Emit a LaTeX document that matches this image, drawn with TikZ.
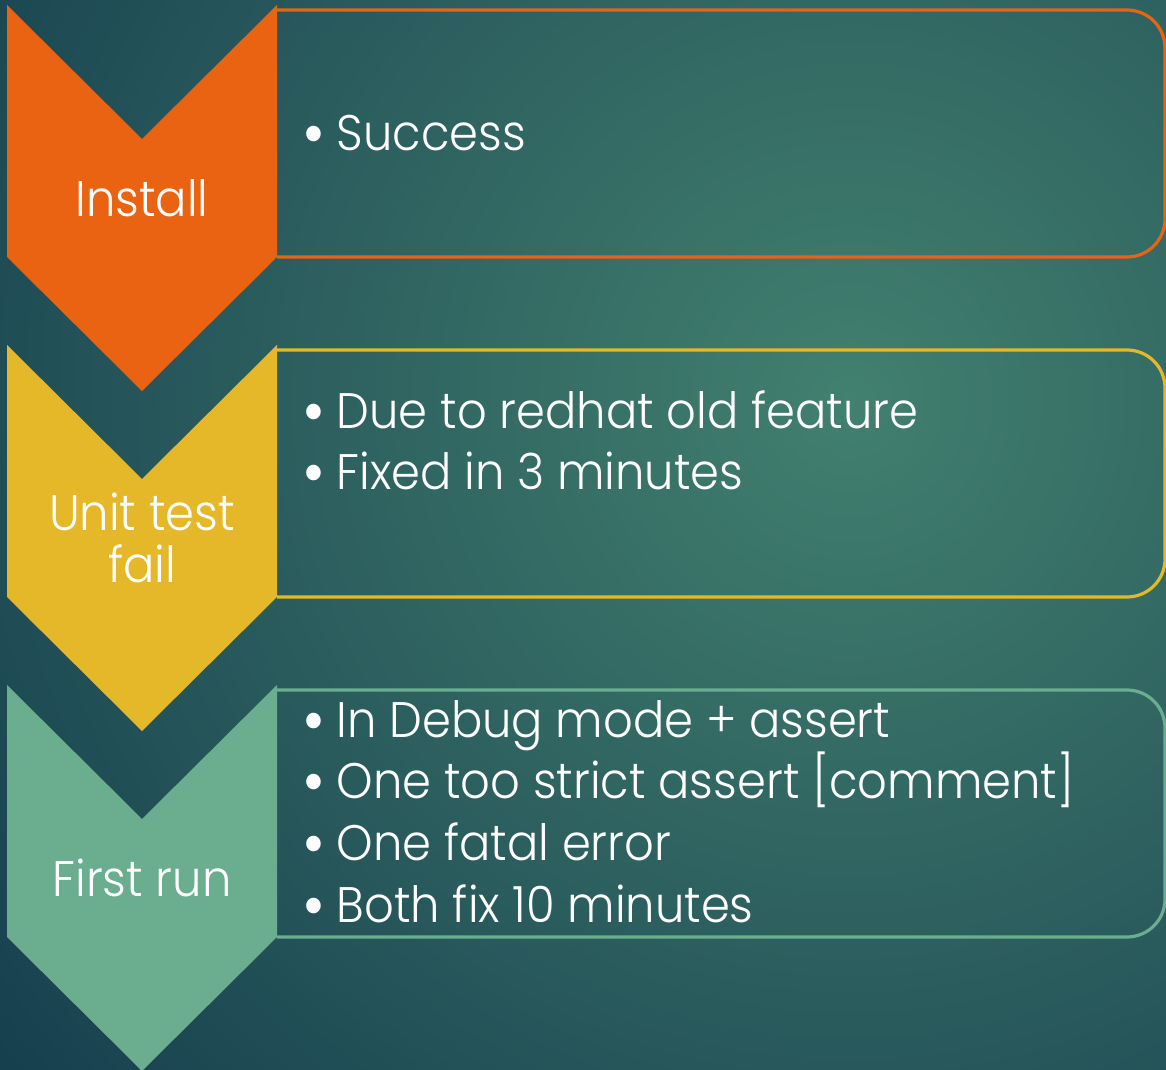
\documentclass[tikz,border=0pt]{standalone}
\usepackage{fontspec}
\setmainfont{Poppins}[UprightFont=* Light, FakeStretch=0.93]
\usepackage{xcolor}
\usepackage{graphicx}
\usepackage{tikz}
\usetikzlibrary{positioning}

\definecolor{instorange}{HTML}{EA6312}
\definecolor{testyellow}{HTML}{E5B82A}
\definecolor{rungreen}{HTML}{6AAD8F}
\definecolor{bgdark}{HTML}{163E4E}
\definecolor{bglight}{HTML}{42806F}

\newcommand{\bul}{\strut\makebox[0.34cm][l]{\raisebox{-0.12em}{\scalebox{1.35}{\textbullet}}}}

\begin{document}
\setlength{\lineskiplimit}{-20pt}
\begin{tikzpicture}[x=0.01cm, y=-0.01cm,
  frame/.style={draw=#1, line width=0.032cm, rounded corners=0.38cm},
  stage/.style={font=\fontsize{14.2}{15}\selectfont, text=white, align=center, inner sep=0pt},
  items/.style={font=\fontsize{14.2}{17.6}\selectfont, text=white,
    align=left, inner sep=0pt, anchor=north west}
]
  \useasboundingbox (0,0) rectangle (1166,1070);
  % background
  \begin{scope}
    \clip (0,0) rectangle (1166,1070);
    \shade[inner color=bglight, outer color=bgdark] (850,400) circle[radius=11cm];
  \end{scope}

  \foreach \k/\col/\name/\ty in {0/instorange/Install/198,
    1/testyellow/{Unit test\\fail}/538, 2/rungreen/First run/878} {
    \pgfmathsetmacro{\dy}{340*\k}
    \draw[frame=\col] (277,10+\dy) -- (1165,10+\dy) -- (1165,257+\dy) -- (277,257+\dy);
    \fill[\col] (7,5+\dy) -- (142,139+\dy) -- (277,5+\dy) -- (277,257+\dy)
      -- (142,391+\dy) -- (7,257+\dy) -- cycle;
    \node[stage] (stage\k) at (142,\ty) {\name};
  }

  \node[items] (list0) at (302,106) {\bul Success};
  \node[items] (list1) at (302,384) {\bul Due to redhat old feature\\
    \bul Fixed in 3 minutes};
  \node[items] (list2) at (302,693) {\bul In Debug mode + assert\\
    \bul One too strict assert [comment]\\
    \bul One fatal error\\
    \bul Both fix 10 minutes};
\end{tikzpicture}
\end{document}
